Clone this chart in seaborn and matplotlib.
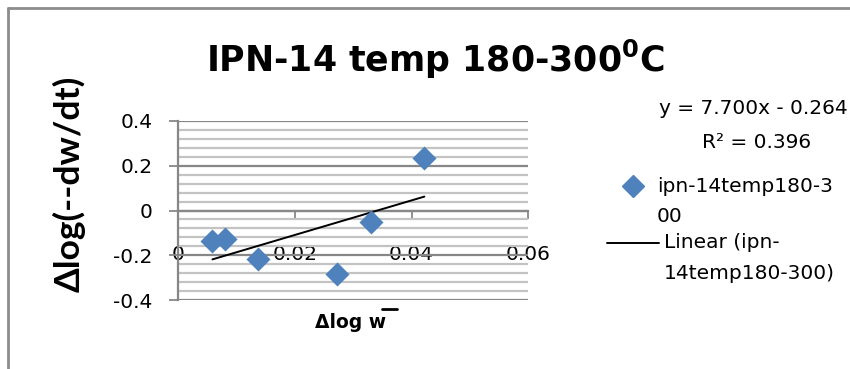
import numpy as np
import pandas as pd
import matplotlib
matplotlib.use("Agg")
import matplotlib.pyplot as plt
from matplotlib.lines import Line2D
from matplotlib.ticker import MultipleLocator
import seaborn as sns

# ---- data ----
delta_log_w = [0.0059, 0.0080, 0.0137, 0.0273, 0.0331, 0.0422]
delta_log_rate = [-0.138, -0.127, -0.216, -0.281, -0.050, 0.236]
x_ticks = [0, 0.02, 0.04, 0.06]
x_tick_labels = ["0", "0.02", "0.04", "0.06"]
y_ticks = [-0.4, -0.2, 0, 0.2, 0.4]
y_tick_labels = ["-0.4", "-0.2", "0", "0.2", "0.4"]
series_name = "ipn-14temp180-300"
title_text = r"IPN-14 temp 180-300$^{\mathbf{0}}$C"
y_label = "Δlog(--dw/dt)"
x_label = "Δlog w"
eq_text = "y = 7.700x - 0.264"
r2_text = "R² = 0.396"

sns.set_theme(style="white")
plt.rcParams["font.family"] = ["DejaVu Sans"]
plt.rcParams["text.color"] = "black"
plt.rcParams["axes.labelcolor"] = "black"
plt.rcParams["xtick.color"] = "black"
plt.rcParams["ytick.color"] = "black"

W, H = 850, 369
fig = plt.figure(figsize=(8.5, 3.69), dpi=100)


def fx(x):
    return x / W


def fy(y):
    return 1 - y / H


GRID_MAJ = "#878787"
GRID_MIN = "#c3c3c3"
BLUE = "#4F81BD"

ax = fig.add_axes([fx(178), fy(300.3), fx(528.3) - fx(178), fy(120.7) - fy(300.3)])
df = pd.DataFrame({"x": delta_log_w, "y": delta_log_rate})

sns.regplot(data=df, x="x", y="y", scatter=False, ci=None, ax=ax,
            line_kws=dict(color="black", lw=1.4, zorder=4))
sns.scatterplot(data=df, x="x", y="y", marker="D", s=150, color=BLUE,
                edgecolor=BLUE, linewidth=0, ax=ax, zorder=5, legend=False)

ax.set_xlim(0, 0.06)
ax.set_ylim(-0.4, 0.4)
ax.set_xticks(x_ticks)
ax.set_xticklabels(x_tick_labels)
ax.set_yticks(y_ticks)
ax.set_yticklabels(y_tick_labels)
ax.yaxis.set_minor_locator(MultipleLocator(0.04))
ax.set_xlabel("")
ax.set_ylabel("")
ax.set_facecolor("none")

ax.grid(False)
ax.yaxis.grid(True, which="major", color=GRID_MAJ, lw=1.6)
ax.yaxis.grid(True, which="minor", color=GRID_MIN, lw=1.6)
ax.set_axisbelow(True)

for s in ["top", "right"]:
    ax.spines[s].set_visible(False)
ax.spines["left"].set_color(GRID_MAJ)
ax.spines["left"].set_linewidth(1.6)
ax.spines["bottom"].set_position(("data", 0))
ax.spines["bottom"].set_color(GRID_MAJ)
ax.spines["bottom"].set_linewidth(1.6)

ax.tick_params(axis="y", which="major", direction="out", length=6.5, width=1.3,
               color=GRID_MAJ, pad=12, labelsize=14.5, labelcolor="black", left=True)
ax.tick_params(axis="x", which="major", direction="out", length=5.5, width=1.3,
               color=GRID_MAJ, pad=19.5, labelsize=14.5, labelcolor="black", bottom=True)
ax.tick_params(which="minor", length=0)

# title and axis titles
fig.text(fx(435), fy(72), title_text, ha="center", va="baseline",
         fontsize=25, fontweight="bold", color="black")
fig.text(fx(69), fy(183.5), y_label, rotation=90, ha="center", va="center",
         fontsize=25.5, fontweight="bold", family=["Lato", "DejaVu Sans"], color="black")
fig.text(fx(351), fy(322.5), x_label, ha="center", va="center",
         fontsize=13.5, fontweight="bold", color="black")
fig.add_artist(Line2D([fx(382), fx(397)], [fy(309), fy(309)], color="black",
                      lw=2, transform=fig.transFigure))

# trendline equation
fig.text(fx(848), fy(109), eq_text, ha="right", va="center", fontsize=14.5, color="black")
fig.text(fx(757), fy(142), r2_text, ha="center", va="center", fontsize=14.5, color="black")

# legend
fig.add_artist(Line2D([fx(633)], [fy(186)], marker="D", ms=11, color=BLUE,
                      lw=0, transform=fig.transFigure))
fig.text(fx(657), fy(186), series_name[:15], ha="left", va="center", fontsize=14.5, color="black")
fig.text(fx(657), fy(216.7), series_name[15:], ha="left", va="center", fontsize=14.5, color="black")
fig.add_artist(Line2D([fx(607), fx(659)], [fy(243), fy(243)], color="black",
                      lw=1.4, transform=fig.transFigure))
fig.text(fx(664), fy(242.7), "Linear (ipn-", ha="left", va="center", fontsize=14.5, color="black")
fig.text(fx(664), fy(273.3), series_name[4:] + ")", ha="left", va="center", fontsize=14.5, color="black")

# chart frame (top and left edges visible)
fig.add_artist(Line2D([fx(8), fx(8)], [fy(8), 0], color="#8c8c8c", lw=2,
                      transform=fig.transFigure))
fig.add_artist(Line2D([fx(8), 1], [fy(8), fy(8)], color="#8c8c8c", lw=2,
                      transform=fig.transFigure))

fig.savefig("out.png", dpi=100)
